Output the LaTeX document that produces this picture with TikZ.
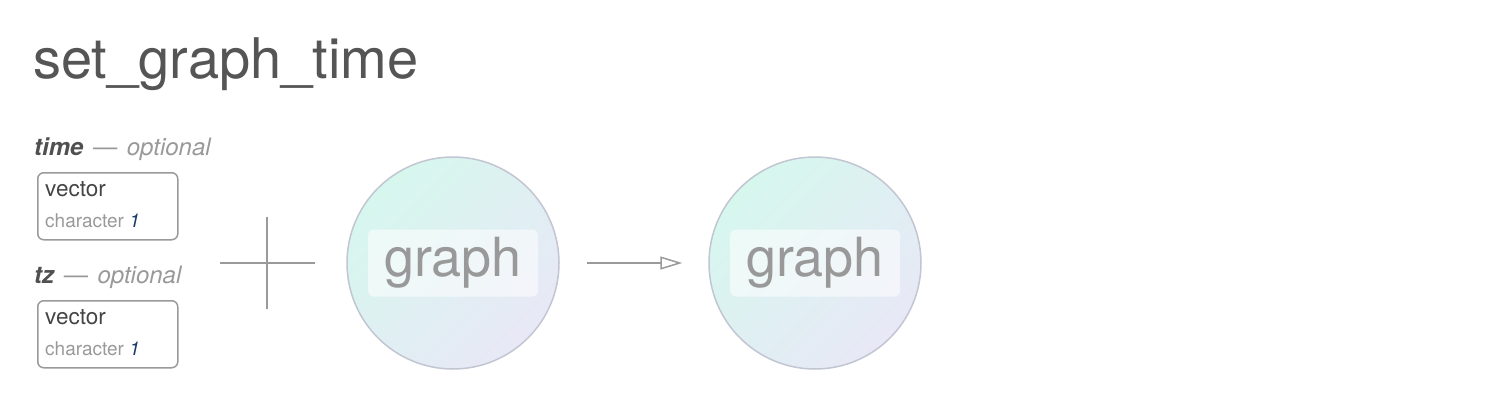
\documentclass[tikz,border=0pt]{standalone}
\usepackage{fontspec}
\setmainfont{TeX Gyre Heros}
\usetikzlibrary{arrows.meta}
\definecolor{titlegray}{HTML}{555555}
\definecolor{darktext}{HTML}{444444}
\definecolor{argtext}{HTML}{505050}
\definecolor{lighttext}{HTML}{999999}
\definecolor{linegray}{HTML}{9A9A9A}
\definecolor{numblue}{HTML}{1A3A6A}
\definecolor{mint}{HTML}{D6F7EE}
\definecolor{lavender}{HTML}{E8E8F6}
\definecolor{circborder}{HTML}{C2C6D2}
\tikzset{
  lbl/.style={anchor=base west, inner sep=0pt},
  typebox/.style={draw=linegray, line width=1.5pt, rounded corners=6pt, minimum width=140pt, minimum height=67pt, anchor=north west, inner sep=0pt},
  graphcirc/.style={circle, draw=circborder, line width=1.5pt, minimum size=212pt, inner sep=0pt,
    left color=mint, right color=lavender, shading angle=45},
  graphlabel/.style={fill=white, fill opacity=0.55, text opacity=1, rounded corners=6pt, minimum width=170pt, minimum height=67pt, inner sep=0pt, text=lighttext, font=\fontsize{54}{60}\selectfont},
  conn/.style={draw=linegray, line width=1.5pt},
}
\begin{document}
\begin{tikzpicture}[x=1pt,y=-1pt]
\useasboundingbox (0,0) rectangle (1510,402);
\node[lbl, text=titlegray, font=\fontsize{56}{64}\selectfont] (title) at (33,78) {set\_graph\_time};
% time argument
\node[lbl, font=\fontsize{24}{28}\selectfont] (timelbl) at (34,155) {\textcolor{argtext}{\bfseries\itshape time}\hspace{3pt} \textcolor{lighttext}{\itshape —\hspace{3pt} optional}};
\node[typebox] (box1) at (37,172) {};
\node[lbl, text=darktext, font=\fontsize{22.5}{26}\selectfont] (vec1) at (45,196) {vector};
\node[lbl, text=lighttext, font=\fontsize{19}{22}\selectfont] (chr1) at (45,227) {character \textcolor{numblue}{\itshape 1}};
% tz argument
\node[lbl, font=\fontsize{24}{28}\selectfont] (tzlbl) at (34,283) {\textcolor{argtext}{\bfseries\itshape tz}\hspace{3pt} \textcolor{lighttext}{\itshape —\hspace{3pt} optional}};
\node[typebox] (box2) at (37,300) {};
\node[lbl, text=darktext, font=\fontsize{22.5}{26}\selectfont] (vec2) at (45,324) {vector};
\node[lbl, text=lighttext, font=\fontsize{19}{22}\selectfont] (chr2) at (45,355) {character \textcolor{numblue}{\itshape 1}};
% plus
\coordinate (plus) at (267,263);
\draw[conn] ([xshift=-47pt]plus) -- ([xshift=48pt]plus);
\draw[conn] ([yshift=-46pt]plus) -- ([yshift=46pt]plus);
% graphs
\node[graphcirc] (g1) at (453,263) {};
\node[graphlabel] (g1l) at (g1.center) {graph};
\node[graphcirc] (g2) at (815,263) {};
\node[graphlabel] (g2l) at (g2.center) {graph};
\draw[conn, -{Triangle[open, length=22pt, width=13pt, line width=1.5pt]}, shorten <=27pt, shorten >=26pt] (g1) -- (g2);
\end{tikzpicture}
\end{document}
